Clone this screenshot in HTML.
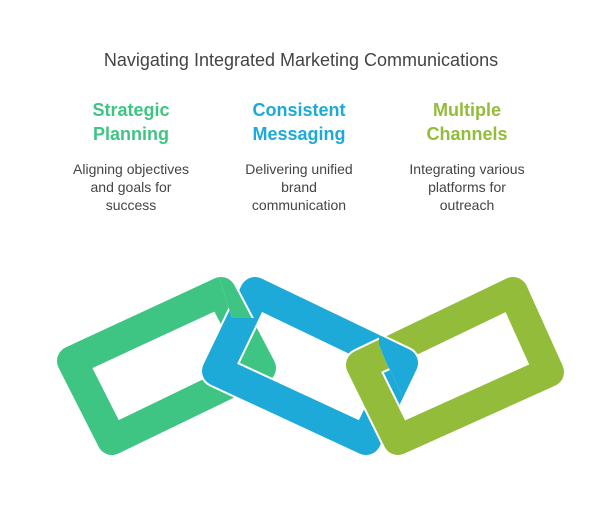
<!DOCTYPE html>
<html><head><meta charset="utf-8"><style>
html,body{margin:0;padding:0;background:#fff;width:602px;height:530px;overflow:hidden;font-family:"Liberation Sans",sans-serif}
.t{position:absolute;text-align:center;white-space:nowrap}
</style></head><body>
<div class="t" style="left:0;width:602px;top:50px;font-size:18px;color:#444">Navigating Integrated Marketing Communications</div>
<div class="t" style="left:51px;width:160px;top:98px;font-size:18px;font-weight:bold;line-height:24px;color:#3fc583">Strategic<br>Planning</div>
<div class="t" style="left:219px;width:160px;top:98px;font-size:18px;font-weight:bold;line-height:24px;color:#1eaad9">Consistent<br>Messaging</div>
<div class="t" style="left:387px;width:160px;top:98px;font-size:18px;font-weight:bold;line-height:24px;color:#92bc3a">Multiple<br>Channels</div>
<div class="t" style="left:51px;width:160px;top:160px;font-size:14px;line-height:18px;color:#444">Aligning objectives<br>and goals for<br>success</div>
<div class="t" style="left:219px;width:160px;top:160px;font-size:14px;line-height:18px;color:#444">Delivering unified<br>brand<br>communication</div>
<div class="t" style="left:387px;width:160px;top:160px;font-size:14px;line-height:18px;color:#444">Integrating various<br>platforms for<br>outreach</div>
<svg width="602" height="530" style="position:absolute;left:0;top:0" fill="none" stroke-linejoin="round">
<defs>
<clipPath id="c1"><polygon points="379,300 450,300 450,395 402,395 386,362 379,345"/></clipPath>
<clipPath id="c2"><polygon points="215,265 275,265 275,318 232,318"/></clipPath>
<polygon id="B" points="255,292 403,363 366,440 217,371"/>
<polygon id="L" points="513,292 549,372 398,440 361,365"/>
<polygon id="G" points="221,292 261,368 112,440 72,361"/>
</defs>
<use href="#G" stroke="#3fc583" stroke-width="30"/>
<use href="#B" stroke="#fff" stroke-width="34"/>
<use href="#B" stroke="#1eaad9" stroke-width="30"/>
<use href="#L" stroke="#fff" stroke-width="34"/>
<use href="#L" stroke="#92bc3a" stroke-width="30"/>
<g clip-path="url(#c1)">
<use href="#B" stroke="#fff" stroke-width="34"/>
<use href="#B" stroke="#1eaad9" stroke-width="30"/>
</g>
<g clip-path="url(#c2)">
<use href="#G" stroke="#fff" stroke-width="34"/>
<use href="#G" stroke="#3fc583" stroke-width="30"/>
</g>
</svg>
</body></html>
